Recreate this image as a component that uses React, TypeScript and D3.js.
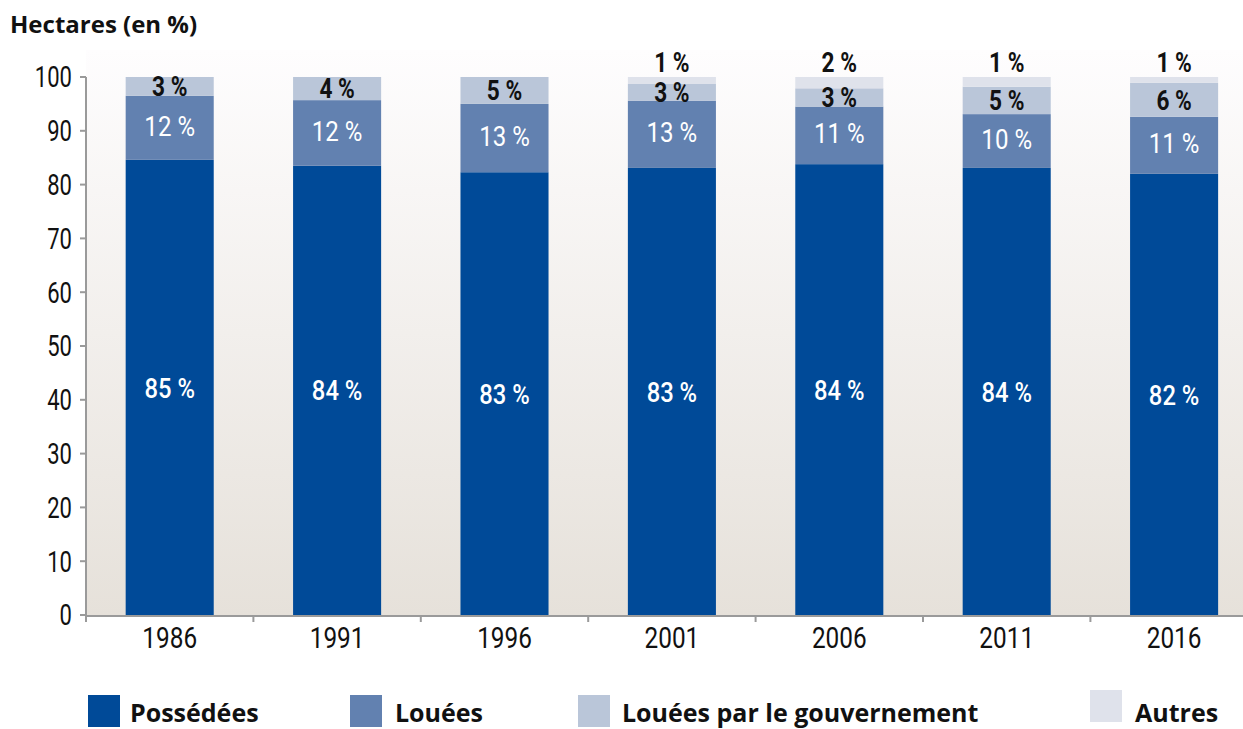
import React from "react";
import * as d3 from "d3";

const years = ["1986", "1991", "1996", "2001", "2006", "2011", "2016"];
const possedees = [84.6, 83.5, 82.3, 83.1, 83.8, 83.1, 82.0];
const louees = [11.9, 12.2, 12.7, 12.5, 10.7, 10.0, 10.6];
const loueesGouv = [3.5, 4.3, 5.0, 3.1, 3.4, 5.1, 6.3];
const autres = [0, 0, 0, 1.3, 2.1, 1.8, 1.1];
const labPossedees = ["85 %", "84 %", "83 %", "83 %", "84 %", "84 %", "82 %"];
const labLouees = ["12 %", "12 %", "13 %", "13 %", "11 %", "10 %", "11 %"];
const labGouv = ["3 %", "4 %", "5 %", "3 %", "3 %", "5 %", "6 %"];
const labAutres = ["", "", "", "1 %", "2 %", "1 %", "1 %"];
const yTicks = [0, 10, 20, 30, 40, 50, 60, 70, 80, 90, 100];
const seriesNames = ["Possédées", "Louées", "Louées par le gouvernement", "Autres"];
const colors = ["#004a98", "#6281b0", "#bac6d9", "#dfe2eb"];

const W = 1243;
const H = 729;
const left = 86;
const y0 = 615;
const y100 = 77;
const step = 167.4;

const condFont = "Roboto, 'Liberation Sans', sans-serif";
const boldFont = "'Open Sans', 'Liberation Sans', sans-serif";

function CText(props: {
  x: number;
  y: number;
  size: number;
  sx?: number;
  weight?: number;
  fill?: string;
  anchor?: string;
  dy?: string;
  children: React.ReactNode;
}) {
  const { x, y, size, sx = 0.82, weight = 400, fill = "#111", anchor = "middle", dy, children } = props;
  return (
    <g transform={`translate(${x},${y}) scale(${sx},1)`}>
      <text
        x={0}
        y={0}
        dy={dy}
        textAnchor={anchor}
        fontFamily={condFont}
        fontSize={size}
        fontWeight={weight}
        fill={fill}
      >
        {children}
      </text>
    </g>
  );
}

export default function App() {
  const x = d3
    .scaleBand<string>()
    .domain(years)
    .range([left, left + step * years.length])
    .paddingInner(0.474)
    .paddingOuter(0.237);
  const y = d3.scaleLinear().domain([0, 100]).range([y0, y100]);
  const series = [possedees, louees, loueesGouv, autres];
  const rows = years.map((yr, i) => ({
    year: yr,
    s0: series[0][i],
    s1: series[1][i],
    s2: series[2][i],
    s3: series[3][i],
  }));
  const stack = d3.stack<any>().keys(["s0", "s1", "s2", "s3"]);
  const stacked = stack(rows);
  const bw = x.bandwidth();
  const boundaries = years.map((_, i) => left + step * i);

  const legendItems = [
    { sx: 88, sy: 695, tx: 130, ty: 722 },
    { sx: 350, sy: 695, tx: 395, ty: 722 },
    { sx: 578, sy: 695, tx: 622, ty: 722 },
    { sx: 1090, sy: 690, tx: 1135, ty: 722 },
  ];

  return (
    <svg width={W} height={H} style={{ position: "absolute", left: 0, top: 0 }}>
      <defs>
        <linearGradient id="bg" x1="0" y1="0" x2="0" y2="1">
          <stop offset="0" stopColor="#fefdfe" />
          <stop offset="1" stopColor="#e6e1da" />
        </linearGradient>
      </defs>
      <rect x={0} y={0} width={W} height={H} fill="#ffffff" />
      <rect x={left} y={50} width={W - left} height={y0 - 50} fill="url(#bg)" />
      <text x={10} y={33} fontFamily={boldFont} fontWeight={700} fontSize={24} fill="#111">
        Hectares (en %)
      </text>

      {stacked.map((layer, li) =>
        layer.map((d, i) => (
          <rect
            key={`${li}-${i}`}
            x={x(years[i])}
            y={y(d[1])}
            width={bw}
            height={Math.max(0, y(d[0]) - y(d[1]))}
            fill={colors[li]}
          />
        ))
      )}

      {/* axes */}
      <line x1={left} x2={left} y1={y100} y2={y0 + 2} stroke="#9a9a9a" strokeWidth={2} />
      <line x1={left} x2={W} y1={y0 + 1} y2={y0 + 1} stroke="#9a9a9a" strokeWidth={2} />
      {yTicks.map((t) => (
        <g key={t}>
          <line x1={left - 6} x2={left} y1={y(t)} y2={y(t)} stroke="#9a9a9a" strokeWidth={2} />
          <CText x={72} y={y(t)} dy="0.36em" anchor="end" size={29} sx={0.76}>
            {t}
          </CText>
        </g>
      ))}
      {boundaries.map((b, i) => (
        <line key={i} x1={b} x2={b} y1={y0} y2={y0 + 7} stroke="#9a9a9a" strokeWidth={2} />
      ))}
      {years.map((yr) => (
        <CText key={yr} x={(x(yr) as number) + bw / 2} y={648} size={29} sx={0.84}>
          {yr}
        </CText>
      ))}

      {/* value labels */}
      {years.map((yr, i) => {
        const cx = (x(yr) as number) + bw / 2;
        const l0 = stacked[0][i];
        const l1 = stacked[1][i];
        const l2 = stacked[2][i];
        const l3 = stacked[3][i];
        return (
          <g key={yr}>
            <CText x={cx} y={(y(l0[0]) + y(l0[1])) / 2} dy="0.36em" size={28} weight={500} fill="#fff" sx={0.85}>
              {labPossedees[i]}
            </CText>
            <CText x={cx} y={(y(l1[0]) + y(l1[1])) / 2 - 2} dy="0.36em" size={28} fill="#fff" sx={0.86}>
              {labLouees[i]}
            </CText>
            <CText x={cx} y={(y(l2[0]) + y(l2[1])) / 2} dy="0.36em" size={27} weight={700} sx={0.84}>
              {labGouv[i]}
            </CText>
            {labAutres[i] && (
              <CText x={cx} y={y(l3[1]) - 5} size={27} weight={700} sx={0.84}>
                {labAutres[i]}
              </CText>
            )}
          </g>
        );
      })}

      {/* legend */}
      {legendItems.map((it, i) => (
        <g key={i}>
          <rect x={it.sx} y={it.sy} width={32} height={32} fill={colors[i]} />
          <text x={it.tx} y={it.ty} fontFamily={boldFont} fontWeight={700} fontSize={25} fill="#111">
            {seriesNames[i]}
          </text>
        </g>
      ))}
    </svg>
  );
}
